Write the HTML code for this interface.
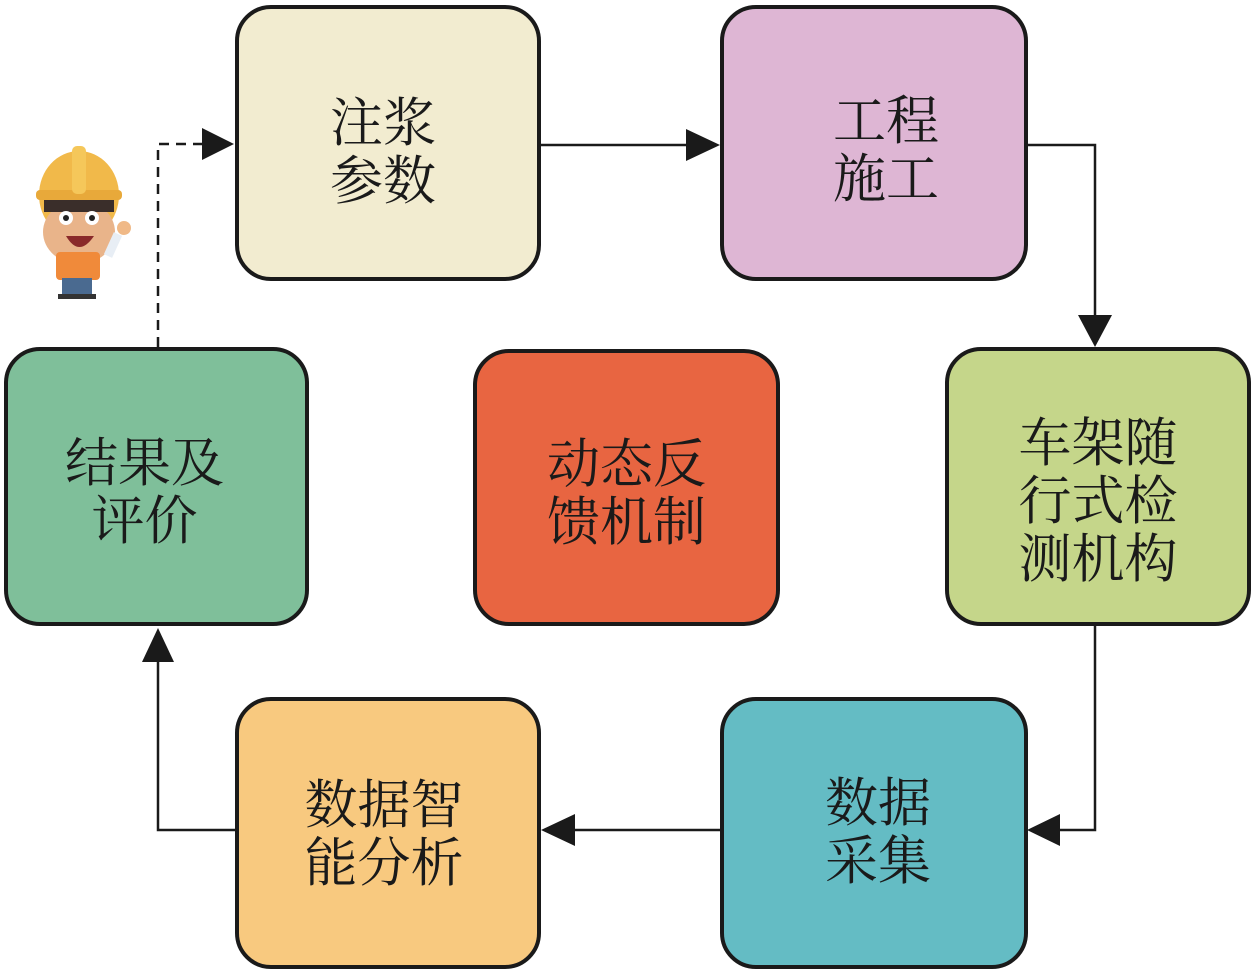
<!DOCTYPE html>
<html><head><meta charset="utf-8"><style>
body{margin:0;background:#fff;width:1252px;height:974px;overflow:hidden;position:relative;font-family:"Liberation Serif","Noto Serif CJK SC",serif;}
.b{position:absolute;box-sizing:border-box;border:4px solid #1a1a1a;border-radius:36px;display:flex;align-items:center;justify-content:center;text-align:center;font-size:53px;line-height:58px;color:#1a1a1a;padding-top:12px;}
svg{position:absolute;left:0;top:0}
</style></head><body>
<svg width="1252" height="974">
<g stroke="#1a1a1a" stroke-width="2.5" fill="none">
<path d="M158 347 V144 H205" stroke-dasharray="10 7"/>
<path d="M540 145 H690"/>
<path d="M1027 145 H1095 V318"/>
<path d="M1095 625 V830 H1060"/>
<path d="M720 830 H575"/>
<path d="M235 830 H158 V660"/>
</g>
<g fill="#1a1a1a">
<polygon points="202,128 234,144 202,160"/>
<polygon points="686,129 720,145 686,161"/>
<polygon points="1078,315 1112,315 1095,347"/>
<polygon points="1060,814 1060,846 1027,830"/>
<polygon points="575,814 575,846 541,830"/>
<polygon points="142,662 174,662 158,628"/>
</g>
<g>
<ellipse cx="79" cy="195" rx="40" ry="44" fill="#f1b94a"/>
<rect x="36" y="190" width="86" height="10" rx="4" fill="#e8a93a"/>
<rect x="72" y="146" width="14" height="48" rx="5" fill="#f5c75a"/>
<ellipse cx="79" cy="232" rx="36" ry="32" fill="#e9b48a"/>
<rect x="44" y="200" width="70" height="12" fill="#3a2e2a"/>
<circle cx="66" cy="218" r="7" fill="#fff"/><circle cx="92" cy="218" r="7" fill="#fff"/>
<circle cx="66" cy="218" r="3" fill="#222"/><circle cx="92" cy="218" r="3" fill="#222"/>
<path d="M66 236 Q79 258 94 236 Z" fill="#8a2a2a"/>
<rect x="56" y="252" width="44" height="28" rx="4" fill="#f08a3a"/>
<rect x="62" y="278" width="30" height="18" fill="#4a6a90"/>
<rect x="58" y="294" width="38" height="5" fill="#333"/>
<circle cx="124" cy="228" r="7" fill="#f0b987"/>
<path d="M118 234 L108 256" stroke="#e8eef5" stroke-width="9"/>
</g>
</svg>
<div class="b" style="left:235px;top:5px;width:306px;height:276px;background:#f2ecd0;padding-right:10px;padding-top:20px">注浆<br>参数</div>
<div class="b" style="left:720px;top:5px;width:308px;height:276px;background:#deb6d4;padding-top:16px;padding-left:24px">工程<br>施工</div>
<div class="b" style="left:945px;top:347px;width:306px;height:279px;background:#c5d68a;padding-top:30px">车架随<br>行式检<br>测机构</div>
<div class="b" style="left:720px;top:697px;width:308px;height:272px;background:#64bcc4;padding-top:0;padding-left:8px">数据<br>采集</div>
<div class="b" style="left:235px;top:697px;width:306px;height:272px;background:#f8c97f;padding-top:4px;padding-right:8px">数据智<br>能分析</div>
<div class="b" style="left:4px;top:347px;width:305px;height:279px;background:#7fbf9a;padding-right:24px">结果及<br>评价</div>
<div class="b" style="left:473px;top:349px;width:307px;height:277px;background:#e86541">动态反<br>馈机制</div>
</body></html>
